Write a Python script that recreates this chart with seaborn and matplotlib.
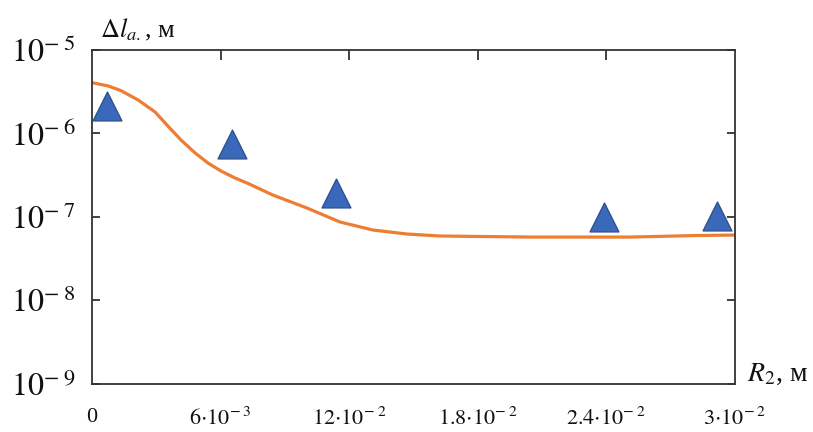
import matplotlib
matplotlib.use("Agg")
import matplotlib.pyplot as plt
import seaborn as sns
import pandas as pd

# ---- data ----
r2_curve = [0.0, 0.75e-3, 1.35e-3, 2.15e-3, 2.94e-3, 3.55e-3, 4.15e-3, 4.81e-3,
            5.41e-3, 6.02e-3, 6.67e-3, 7.28e-3, 8.44e-3, 10.03e-3, 11.57e-3,
            13.11e-3, 14.70e-3, 16.24e-3, 20.44e-3, 25.1e-3, 28.23e-3, 30.0e-3]
dl_curve = [4.06e-6, 3.71e-6, 3.26e-6, 2.52e-6, 1.81e-6, 1.22e-6, 8.36e-7, 5.84e-7,
            4.43e-7, 3.55e-7, 2.93e-7, 2.52e-7, 1.83e-7, 1.28e-7, 8.71e-8,
            6.98e-8, 6.25e-8, 5.92e-8, 5.75e-8, 5.75e-8, 6.0e-8, 6.08e-8]

r2_exp = [0.70e-3, 6.53e-3, 11.38e-3, 23.89e-3, 29.16e-3]
dl_exp = [2.13e-6, 7.4e-7, 1.94e-7, 1.0e-7, 1.03e-7]

x_ticks = [0.0, 6e-3, 12e-3, 18e-3, 24e-3, 30e-3]
x_ticklabels = ["0", r"$6{\cdot}10^{-\;3}$", r"$12{\cdot}10^{-\;2}$", r"$1.8{\cdot}10^{-\;2}$",
                r"$2.4{\cdot}10^{-\;2}$", r"$3{\cdot}10^{-\;2}$"]
y_ticks = [1e-9, 1e-8, 1e-7, 1e-6, 1e-5]
y_ticklabels = [r"$10^{-\;9}$", r"$10^{-\;8}$", r"$10^{-\;7}$", r"$10^{-\;6}$", r"$10^{-\;5}$"]

curve_df = pd.DataFrame({"R2": r2_curve, "dl": dl_curve})
exp_df = pd.DataFrame({"R2": r2_exp, "dl": dl_exp})

sns.set_theme(style="white")
plt.rcParams["font.family"] = ["Liberation Serif", "DejaVu Serif"]
plt.rcParams["mathtext.fontset"] = "stix"

fig = plt.figure(figsize=(8.13, 4.32), dpi=100)
ax = fig.add_axes([0.1132, 0.1111, 0.7909, 0.7732])

sns.lineplot(data=curve_df, x="R2", y="dl", ax=ax, color="#ED7D31", linewidth=2.3,
             zorder=2, solid_joinstyle="round", solid_capstyle="round")
sns.scatterplot(data=exp_df, x="R2", y="dl", ax=ax, marker="^", s=430,
                color="#3a68bb", edgecolor="#2f528f", linewidth=1.0, zorder=3)

ax.set_yscale("log")
ax.set_ylim(1e-9, 1e-5)
ax.set_xlim(0, 30e-3)
ax.minorticks_off()

ax.set_xticks(x_ticks)
ax.set_xticklabels(x_ticklabels, fontsize=16)
ax.set_yticks(y_ticks)
ax.set_yticklabels(y_ticklabels, fontsize=23)
ax.set_xlabel("")
ax.set_ylabel("")

for s in ax.spines.values():
    s.set_color("#333333")
    s.set_linewidth(1.3)

ax.tick_params(axis="x", which="major", direction="inout", length=10, width=1.3,
               color="#333333", pad=12, labelcolor="#111111")
ax.tick_params(axis="y", which="major", direction="in", length=6, width=1.3,
               color="#333333", pad=12, left=True, right=True, labelcolor="#111111")

top = ax.secondary_xaxis("top")
top.set_xticks(x_ticks[1:-1])
top.set_xticklabels([""] * len(x_ticks[1:-1]))
top.tick_params(direction="in", length=7, width=1.3, color="#333333")
top.spines["top"].set_visible(False)

fig.text(100 / 813, 1 - 37 / 432, r"$\Delta l_{a.}$, м", fontsize=19, color="#111111",
         ha="left", va="baseline")
fig.text(747 / 813, 1 - 381 / 432, r"$R_2$, м", fontsize=20, color="#111111",
         ha="left", va="baseline")

fig.savefig("out.png", dpi=100)
